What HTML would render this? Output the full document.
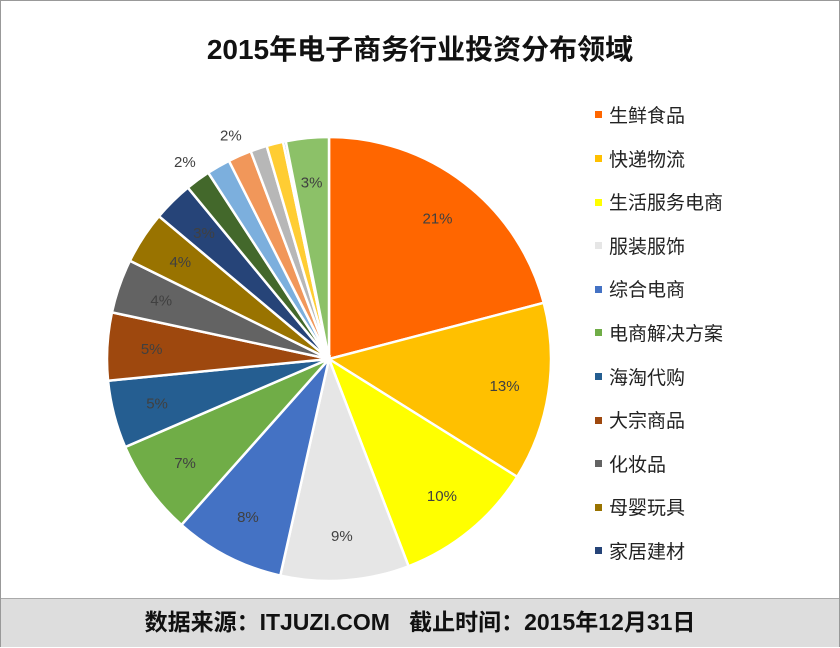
<!DOCTYPE html>
<html><head><meta charset="utf-8"><style>
body{margin:0;width:840px;height:647px;overflow:hidden;background:#fff;font-family:"Liberation Sans","Noto Sans CJK SC",sans-serif}
#wrap{position:absolute;left:0;top:0;width:838px;height:645px;border:1px solid #999}
#title{position:absolute;left:0;top:27px;width:838px;text-align:center;font-size:28px;font-weight:bold;color:#111}
#foot{position:absolute;left:0;top:597px;width:838px;height:48px;background:#ddd;border-top:1px solid #aaa;text-align:center;line-height:46px;font-size:23px;font-weight:bold;color:#111}
.leg{position:absolute;left:594px;font-size:19px;color:#222;height:24px;line-height:24px}
.leg i{display:inline-block;width:7px;height:7px;margin-right:7px;vertical-align:middle;position:relative;top:-2px}
</style></head><body>
<div id="wrap">
<div id="title">2015年电子商务行业投资分布领域</div>
<svg id="pie" width="840" height="647" style="position:absolute;left:0;top:0"></svg>
<div id="legend"></div>
<div id="foot">数据来源：ITJUZI.COM&nbsp;&nbsp;&nbsp;截止时间：2015年12月31日</div>
</div>
<script>
const categories=["生鲜食品","快递物流","生活服务电商","服装服饰","综合电商","电商解决方案","海淘代购","大宗商品","化妆品","母婴玩具","家居建材","其他1","其他2","其他3","其他4","其他5","其他6","其他7"];
const values=[20.8,12.9,10.2,9.3,8,6.9,4.9,4.9,3.9,3.8,2.9,1.8,1.7,1.7,1.2,1.2,0.2,3.1];
const labels=["21%","13%","10%","9%","8%","7%","5%","5%","4%","4%","3%","2%","2%","2%","","","","3%"];
const colors=["#ff6600","#ffc000","#ffff00","#e6e6e6","#4472c4","#70ad47","#255e91","#9e480e","#636363","#997300","#264478","#43682b","#7cafdd","#f1975a","#b7b7b7","#ffcd33","#698ed0","#8cc168"];
const svg=document.getElementById('pie');const NS='http://www.w3.org/2000/svg';
const cx=328,cy=358,R=222;const total=values.reduce((a,b)=>a+b,0);
function pt(a,r){return [cx+r*Math.sin(a),cy-r*Math.cos(a)];}
let acc=0;
values.forEach((v,i)=>{
 const a0=acc/total*2*Math.PI;acc+=v;const a1=acc/total*2*Math.PI;
 const p0=pt(a0,R),p1=pt(a1,R);
 const p=document.createElementNS(NS,'path');
 p.setAttribute('d',`M${cx},${cy}L${p0[0]},${p0[1]}A${R},${R} 0 ${a1-a0>Math.PI?1:0} 1 ${p1[0]},${p1[1]}Z`);
 p.setAttribute('fill',colors[i]);p.setAttribute('stroke','#fff');p.setAttribute('stroke-width','2.5');
 
 
 svg.appendChild(p);
 if(labels[i]){
  const am=(a0+a1)/2;const outside=(i>=11&&i<=13);
  const lp=pt(am,outside?R+22:R*0.8);
  if(outside&&i===12)return;
  const t=document.createElementNS(NS,'text');
  t.setAttribute('x',lp[0]);t.setAttribute('y',lp[1]+5);t.setAttribute('text-anchor','middle');
  t.setAttribute('font-size','15');t.setAttribute('fill','#404040');
  
  
  t.textContent=labels[i];svg.appendChild(t);
 }
});
const leg=document.getElementById('legend');
for(let i=0;i<11;i++){
 const d=document.createElement('div');d.className='leg';d.style.top=(104+i*43.6)+'px';
 
 
 d.innerHTML='<i style="background:'+colors[i]+'"></i>'+categories[i];leg.appendChild(d);
}
</script>
</body></html>
